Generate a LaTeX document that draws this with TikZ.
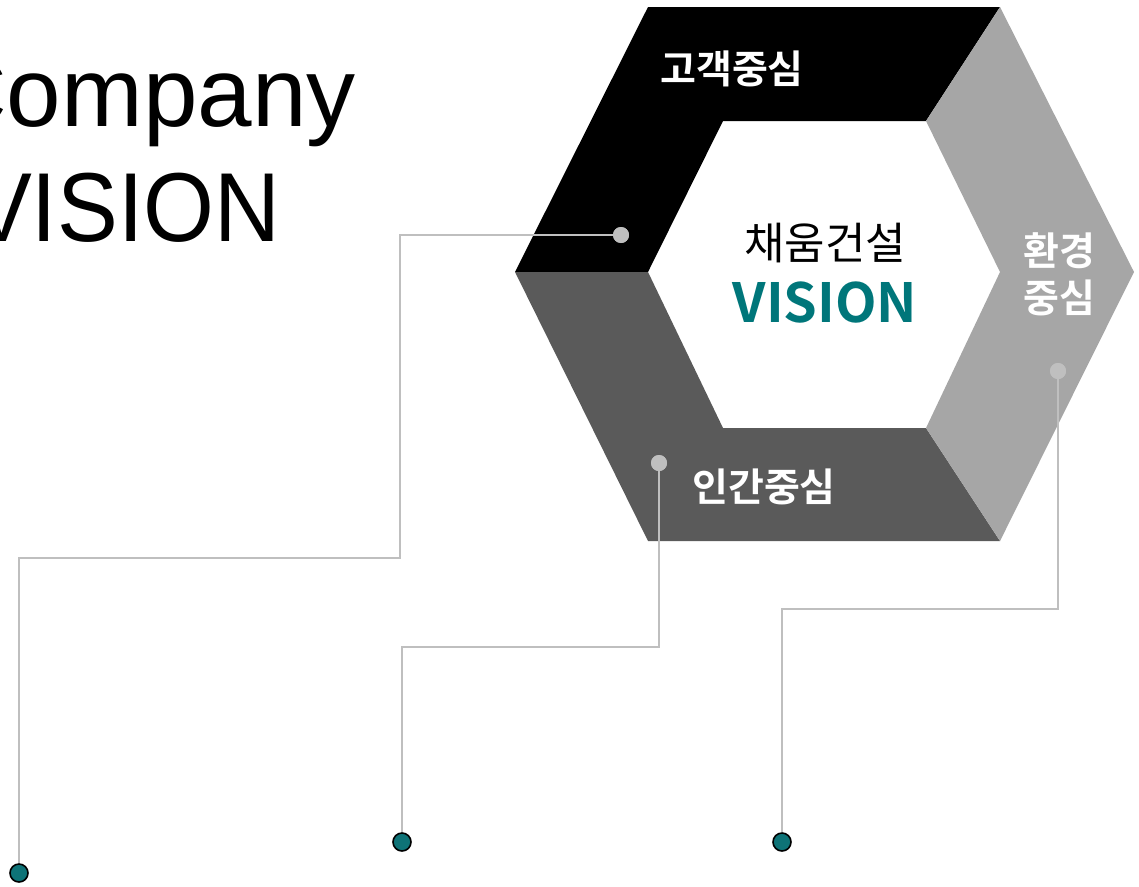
\documentclass[tikz,border=0pt]{standalone}
\usepackage{fontspec}
\setmainfont{Liberation Sans}
\newfontfamily\kr{Noto Sans CJK KR}
\newfontfamily\krb{Noto Sans CJK KR Bold}
\newfontfamily\titlefnt{Liberation Sans}
\definecolor{dgray}{HTML}{5A5A5A}
\definecolor{lgray}{HTML}{A6A6A6}
\definecolor{lineg}{HTML}{BFBFBF}
\definecolor{teal1}{HTML}{00767A}
\definecolor{tealdot}{HTML}{0E7377}
\begin{document}
\begin{tikzpicture}[x=1pt,y=-1pt,
  conn/.style={draw=lineg,line width=1.6pt},
  gdot/.style={circle,fill=lineg,minimum size=16pt,inner sep=0pt},
  tdot/.style={circle,fill=tealdot,draw=black,line width=1.6pt,minimum size=18pt,inner sep=0pt},
  seglabel/.style={text=white,font=\fontsize{39}{47}\selectfont\krb,align=center,inner sep=0pt},
  titletext/.style={anchor=base west,inner sep=0pt,font=\fontsize{98}{110}\selectfont\titlefnt}]
\useasboundingbox (0,0) rectangle (1139,886);
\clip (0,0) rectangle (1139,886);
% title
\node[titletext] (t1) at (-64,126) {Company};
\node[titletext] (t2) at (-29,241) {\scalebox{0.93}[1]{VISION}};
% hexagon segments
\fill[black] (515,272) -- (648,7) -- (1000,7) -- (926,121) -- (723,121) -- (648,272) -- cycle;
\fill[dgray] (515,272) -- (648,272) -- (723,428) -- (926,428) -- (1000,541) -- (648,541) -- cycle;
\fill[lgray] (1000,7) -- (1134,272) -- (1000,541) -- (926,428) -- (1000,272) -- (926,121) -- cycle;
% labels
\node[seglabel] (l1) at (732,69) {고객중심};
\node[seglabel] (l2) at (1059,274) {환경\\중심};
\node[seglabel] (l3) at (764,487) {인간중심};
\node[inner sep=0pt,font=\fontsize{44}{50}\selectfont\kr] (c1) at (825,243) {채움건설};
\node[inner sep=0pt,text=teal1,font=\fontsize{54}{60}\selectfont\krb] (c2) at (825,303) {VISION};
% connectors
\node[gdot] (g1) at (621,235) {};
\node[gdot] (g2) at (659,463) {};
\node[gdot] (g3) at (1058,371) {};
\node[tdot] (d1) at (19,873) {};
\node[tdot] (d2) at (402,842) {};
\node[tdot] (d3) at (782,842) {};
\coordinate (a1) at (400,235);
\coordinate (a2) at (400,558);
\coordinate (b1) at (659,647);
\coordinate (c3) at (1058,609);
\draw[conn] (g1.center) -- (a1) -- (a2) -| (d1.north);
\draw[conn] (g2.center) -- (b1) -| (d2.north);
\draw[conn] (g3.center) -- (c3) -| (d3.north);
\node[gdot] at (g1) {};
\node[gdot] at (g2) {};
\node[gdot] at (g3) {};
\end{tikzpicture}
\end{document}
